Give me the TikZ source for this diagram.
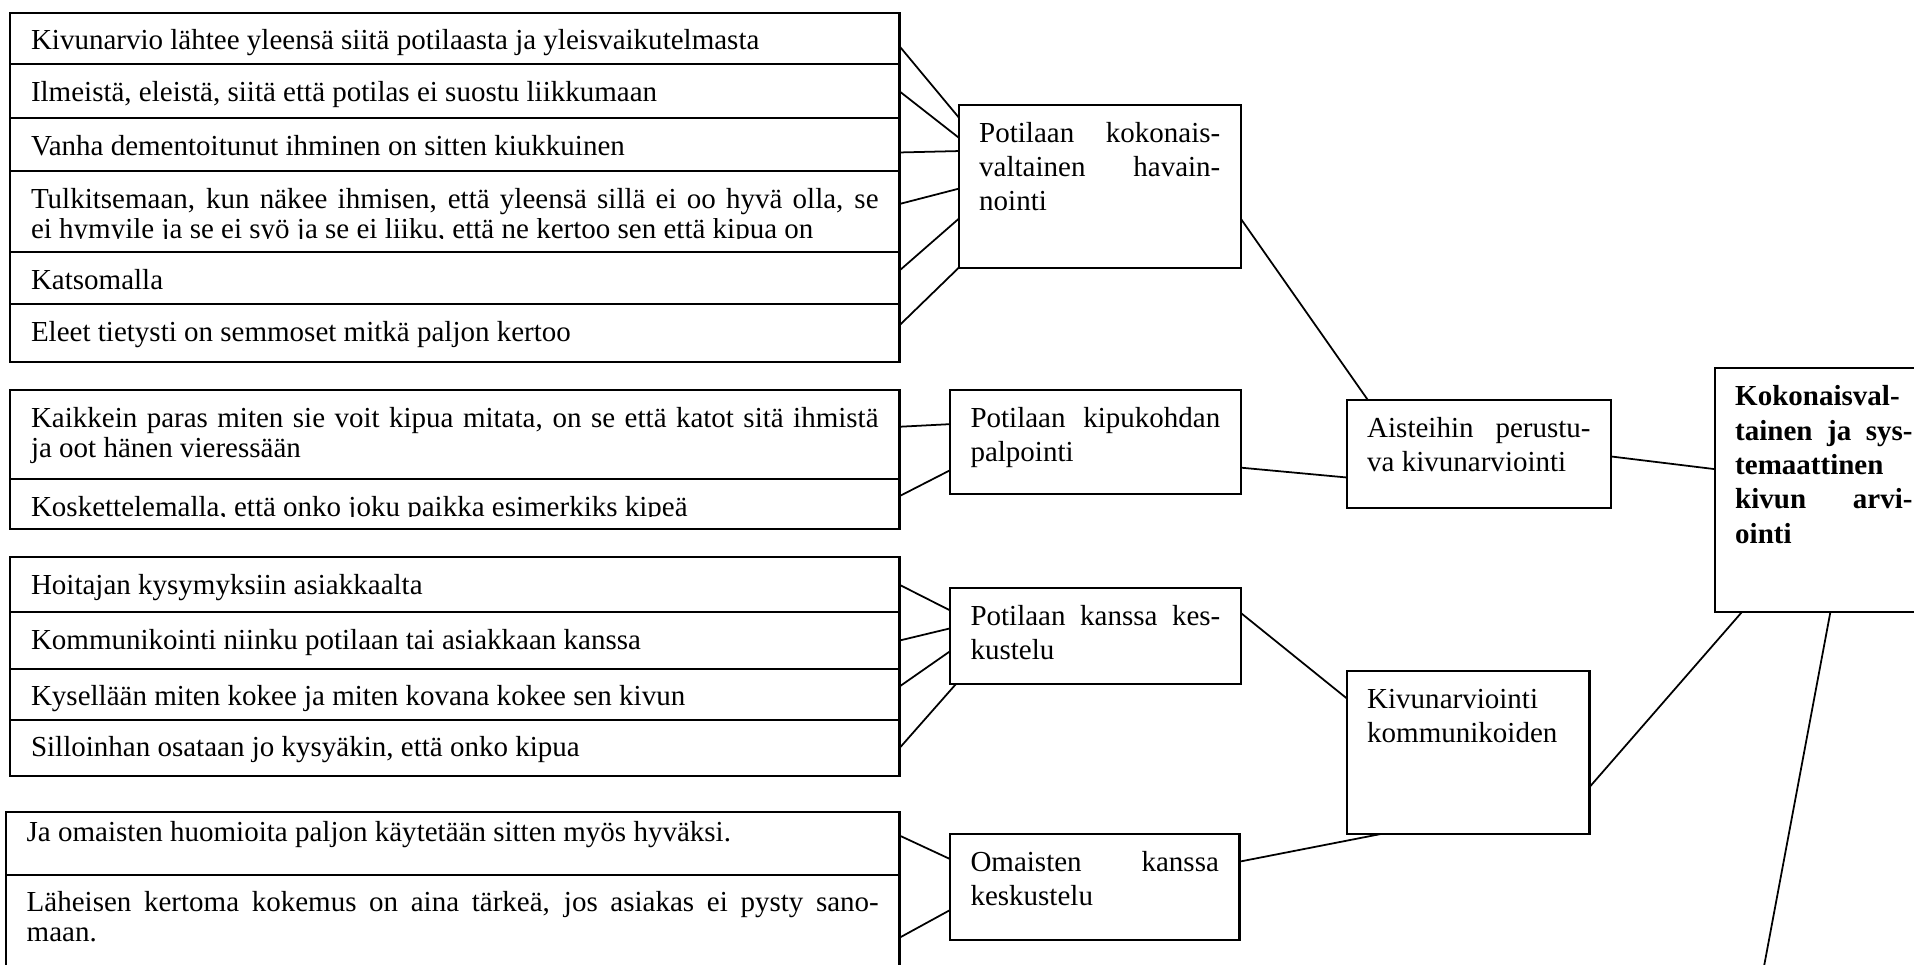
\documentclass[tikz,border=0pt]{standalone}
\usepackage{fontspec}
\setmainfont{Liberation Serif}
\usepackage{trimclip}
\usetikzlibrary{positioning}

\hyphenpenalty=10000
\tolerance=10000
\hbadness=10000

\newcommand{\cellfont}{\fontsize{8.25}{8.6}\selectfont}
\newcommand{\blockfont}{\fontsize{8.25}{9.76}\selectfont}

\begin{document}
\begin{tikzpicture}[
    x=0.01cm, y=-0.01cm,
    cell/.style={rectangle, draw, line width=0.6pt, outer sep=0pt, anchor=north west, align=justify,
        text width=8.47cm, inner xsep=0.21cm, inner ysep=0pt, text height=0.37cm, font=\cellfont},
    block/.style={rectangle, draw, line width=0.6pt, outer sep=0pt, anchor=north west, align=justify,
        inner xsep=0.205cm, inner ysep=0pt, text height=0.375cm, font=\blockfont},
    link/.style={line width=0.5pt}
]
\useasboundingbox (0,0) rectangle (1914,965);
\clip (0,0) rectangle (1914,965);

% observation quotes
\node[cell, text depth=0.146cm] (overall) at (10,12.7) {Kivunarvio lähtee yleensä siitä potilaasta ja yleisvaikutelmasta};
\node[cell, below=0pt of overall, text depth=0.17cm] (gestures) {Ilmeistä, eleistä, siitä että potilas ei suostu liikkumaan};
\node[cell, below=0pt of gestures, text depth=0.157cm] (demented) {Vanha dementoitunut ihminen on sitten kiukkuinen};
\node[cell, below=0pt of demented, text depth=0.443cm] (interpret) {Tulkitsemaan, kun näkee ihmisen, että yleensä sillä ei oo hyvä olla, se\linebreak
    \clipbox{0pt 1.6pt 0pt 0pt}{ei hymyile ja se ei syö ja se ei liiku, että ne kertoo sen että kipua on}};
\node[cell, below=0pt of interpret, text depth=0.147cm] (looking) {Katsomalla};
\node[cell, below=0pt of looking, text depth=0.207cm] (signs) {Eleet tietysti on semmoset mitkä paljon kertoo};

% palpation quotes
\node[cell, text depth=0.52cm] (watch) at (10,390) {Kaikkein paras miten sie voit kipua mitata, on se että katot sitä ihmistä\linebreak ja oot hänen vieressään};
\node[cell, below=0pt of watch, text depth=0.127cm] (touch) {\leavevmode\clipbox{0pt 1.6pt 0pt 0pt}{Koskettelemalla, että onko joku paikka esimerkiks kipeä}};

% patient talk quotes
\node[cell, text depth=0.18cm] (questions) at (10,557.3) {Hoitajan kysymyksiin asiakkaalta};
\node[cell, below=0pt of questions, text depth=0.194cm] (talk) {Kommunikointi niinku potilaan tai asiakkaan kanssa};
\node[cell, below=0pt of talk, text depth=0.14cm] (howfeels) {Kysellään miten kokee ja miten kovana kokee sen kivun};
\node[cell, below=0pt of howfeels, text depth=0.196cm] (askpain) {Silloinhan osataan jo kysyäkin, että onko kipua};

% relatives quotes
\node[cell, text width=8.516cm, inner xsep=0.207cm, text height=0.293cm, text depth=0.334cm] (relatives) at (6,812) {Ja omaisten huomioita paljon käytetään sitten myös hyväksi.};
\node[cell, below=0pt of relatives, text width=8.516cm, inner xsep=0.207cm, text depth=0.733cm] (closeone) {Läheisen kertoma kokemus on aina tärkeä, jos asiakas ei pysty sano-\linebreak maan.};

% categories
\node[block, text width=2.41cm, text depth=1.255cm] (observe) at (958.7,104.7) {Potilaan kokonais-\linebreak valtainen havain-\linebreak nointi};
\node[block, text width=2.497cm, text depth=0.665cm] (palpate) at (950,390) {Potilaan kipukohdan\linebreak palpointi};
\node[block, text width=2.497cm, text depth=0.585cm] (askpat) at (950,588) {Potilaan kanssa kes-\linebreak kustelu};
\node[block, text width=2.483cm, text depth=0.688cm] (askrel) at (950,834) {Omaisten kanssa\linebreak keskustelu};
\node[block, text width=2.233cm, text depth=0.708cm] (senses) at (1346.7,400) {Aisteihin perustu-\linebreak va kivunarviointi};
\node[block, text width=2.016cm, text depth=1.258cm] (communic) at (1346.7,670.7) {Kivunarviointi\\kommunikoiden};
\node[block, text width=1.773cm, text depth=2.065cm, font=\blockfont\bfseries] (total) at (1714.7,368.3) {Kokonaisval-\linebreak tainen ja sys-\linebreak temaattinen\linebreak kivun arvi-\linebreak ointi};
\coordinate (offpage) at (1759.6,990);

\draw[link] (overall.-1.4) -- (observe.154.3);
\draw[link] (gestures.east) -- (observe.161.9);
\draw[link] (demented.-1.0) -- (observe.166.6);
\draw[link] (interpret.1.6) -- (observe.181.1);
\draw[link] (looking.1.5) -- (observe.193.1);
\draw[link] (signs.1.1) -- (observe.south west);
\draw[link] (watch.1.4) -- (palpate.173.3);
\draw[link] (touch.1.4) -- (palpate.191.2);
\draw[link] (questions.-0.5) -- (askpat.170.6);
\draw[link] (talk.0.2) -- (askpat.177.5);
\draw[link] (howfeels.1.4) -- (askpat.186.9);
\draw[link] (askpain.0.2) -- (askpat.199.3);
\draw[link] (relatives.1) -- (askrel.169.3);
\draw[link] (closeone.-1.3) -- (askrel.189.7);
\draw[link] (observe.-13.1) -- (senses.154.9);
\draw[link] (palpate.-10.9) -- (senses.190.4);
\draw[link] (askpat.9) -- (communic.156.5);
\draw[link] (askrel.10.7) -- (communic.-137.8);
\draw[link] (senses.-1.8) -- (total.169.5);
\draw[link] (total.-124.4) -- (communic.-16.8);
\draw[link] (total.-87) -- (offpage);
\end{tikzpicture}
\end{document}
